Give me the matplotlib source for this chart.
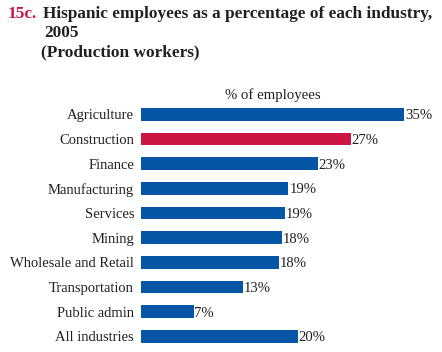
import matplotlib
matplotlib.use("Agg")
import matplotlib.pyplot as plt

# industries, top to bottom
industries = ["Agriculture", "Construction", "Finance", "Manufacturing", "Services",
              "Mining", "Wholesale and Retail", "Transportation", "Public admin",
              "All industries"]
pct = [35.0, 27.9, 23.5, 19.6, 19.2, 18.7, 18.3, 13.6, 7.0, 20.8]
pct_labels = ["35%", "27%", "23%", "19%", "19%", "18%", "18%", "13%", "7%", "20%"]

BLUE = "#0556A6"
RED = "#CC1541"
INK = "#231F20"

plt.rcParams["font.family"] = ["Liberation Serif", "DejaVu Serif"]

W, H = 442, 352
fig = plt.figure(figsize=(W / 100, H / 100), dpi=100)
fig.patch.set_facecolor("white")

# axes placed in pixel terms
left, right, top, bottom = 141, 442, 102, 348.6
ax = fig.add_axes([left / W, 1 - bottom / H, (right - left) / W, (bottom - top) / H])

colors = [RED if name == "Construction" else BLUE for name in industries]
y = range(len(industries))
ax.barh(y, pct, height=0.51, color=colors, edgecolor="none")
for yi, v, lab in zip(y, pct, pct_labels):
    ax.text(v + 0.1, yi, lab, ha="left", va="center_baseline", fontsize=10.6, color=INK)

ax.set_xlim(0, 40)
ax.set_ylim(len(industries) - 0.5, -0.5)
ax.set_yticks(list(y))
ax.set_yticklabels(industries, fontsize=10.5, color=INK, va="center_baseline")
ax.tick_params(axis="y", length=0, pad=5)
ax.set_xticks([])
for s in ax.spines.values():
    s.set_visible(False)

fig.text(273 / W, 1 - 94 / H, "% of employees", ha="center", va="center_baseline",
         fontsize=10.6, color=INK)

# title
TS = 12.4
fig.text(8 / W, 1 - 12 / H, "15c.", ha="left", va="center_baseline", fontsize=TS,
         fontweight="bold", color=RED)
fig.text(43 / W, 1 - 12 / H, "Hispanic employees as a percentage of each industry,",
         ha="left", va="center_baseline", fontsize=TS, fontweight="bold", color=INK)
fig.text(44 / W, 1 - 31 / H, "2005", ha="left", va="center_baseline", fontsize=TS,
         fontweight="bold", color=INK)
fig.text(41 / W, 1 - 50 / H, "(Production workers)", ha="left", va="center_baseline",
         fontsize=TS, fontweight="bold", color=INK)

fig.savefig("out.png", dpi=100)
